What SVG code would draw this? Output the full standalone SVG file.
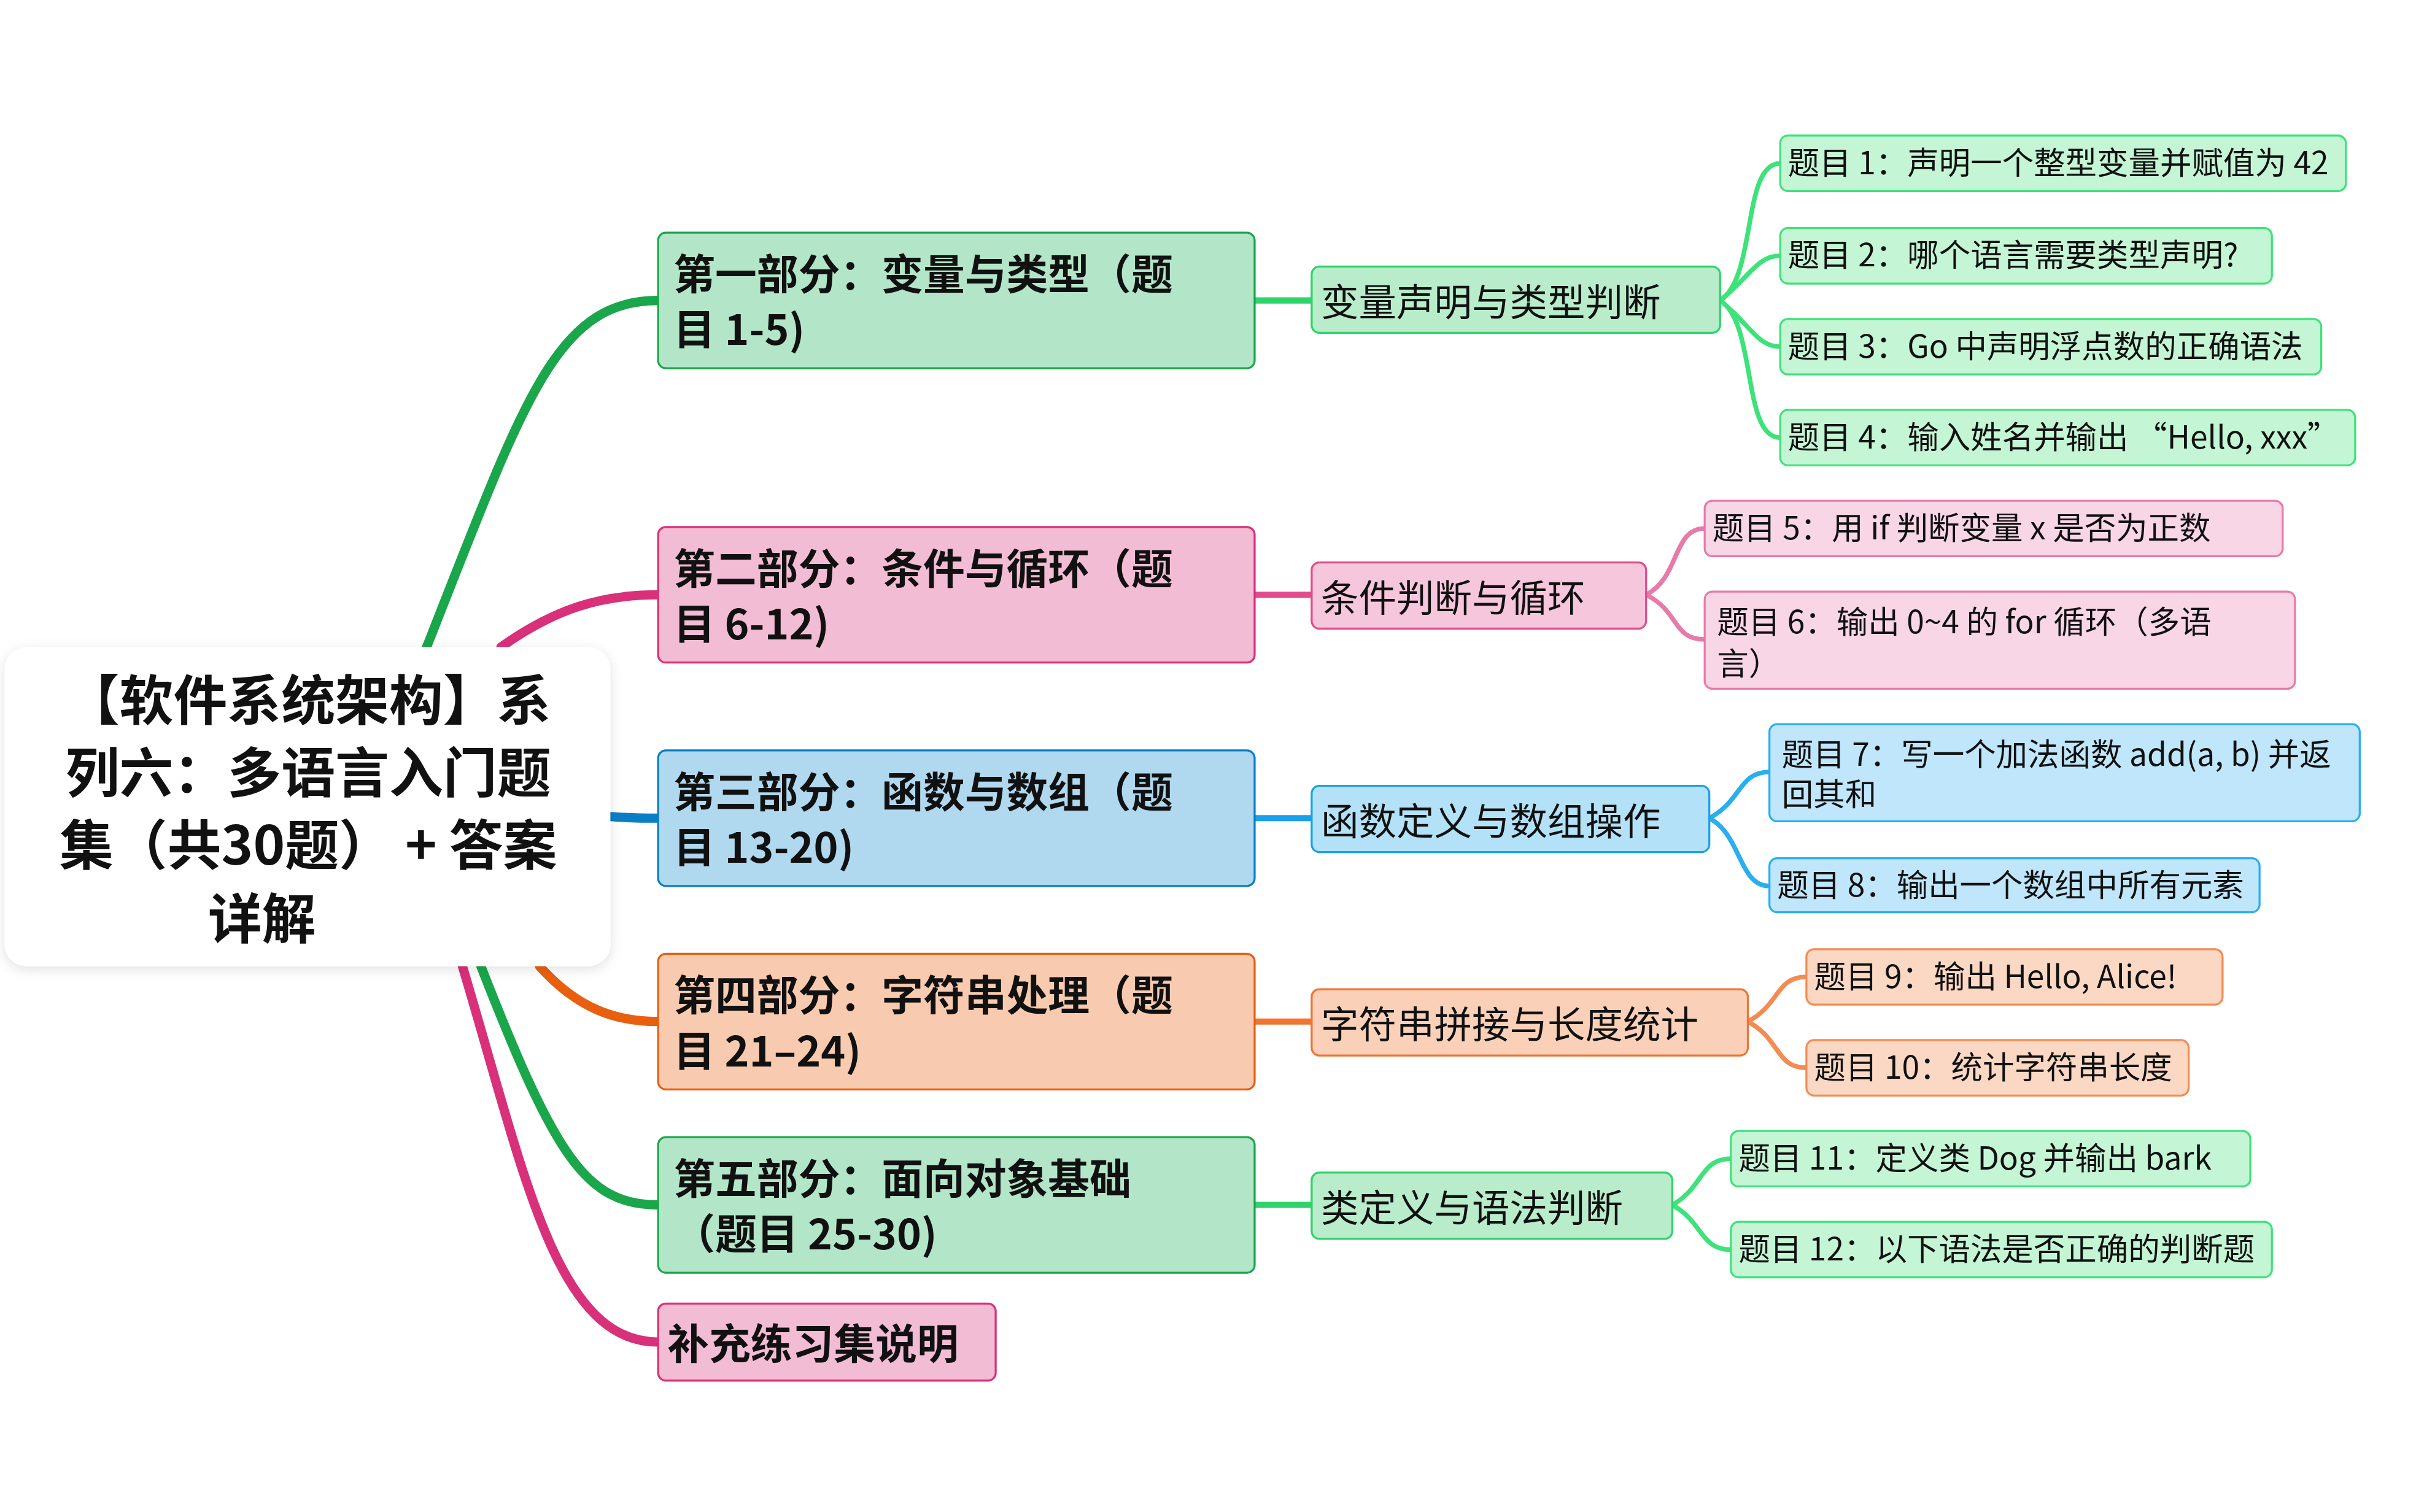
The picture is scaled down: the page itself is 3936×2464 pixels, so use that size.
<svg xmlns="http://www.w3.org/2000/svg" width="3936" height="2464" viewBox="0 0 3936 2464">
<defs>
<filter id="sh" x="-10%" y="-10%" width="120%" height="130%"><feDropShadow dx="0" dy="2" stdDeviation="4" flood-color="#000" flood-opacity="0.12"/></filter>
<style>
text{font-family:"Noto Sans CJK SC","Noto Sans",sans-serif;fill:#111}
.r{font-size:35px;font-weight:bold;text-anchor:middle}
.l1{font-size:27px;font-weight:bold}
.l2{font-size:24.5px}
.l3{font-size:20.5px}
.c{fill:none;stroke-linecap:round}
.w1{stroke-width:6}.w2{stroke-width:4}.w3{stroke-width:3}
.g1{fill:#b3e5c8;stroke:#1aa64a}.p1{fill:#f3bcd5;stroke:#d9307a}.b1{fill:#b0d8ee;stroke:#0a7ec4}.o1{fill:#f8cbb0;stroke:#e8600f}
.g2{fill:#b8eccb;stroke:#2ed36a}.p2{fill:#f6c6dc;stroke:#e04c8c}.b2{fill:#b3e2f8;stroke:#1aa0ea}.o2{fill:#fad0b8;stroke:#f07434}
.g3{fill:#c4f5d5;stroke:#3ee27a}.p3{fill:#f8d6e6;stroke:#e87aaa}.b3{fill:#bfe6fb;stroke:#29aef0}.o3{fill:#fbd8c4;stroke:#f38c53}
rect{stroke-width:1.3}
</style>
</defs>
<rect width="3936" height="2464" fill="#fff"/>
<g transform="scale(2.511)">
<g id="connectors">
<path class="c w1" stroke="#1aa64a" d="M276,422 C340,260 360,195 427,195"/>
<path class="c w1" stroke="#d9307a" d="M325,420 C360,395 390,386 427,386"/>
<path class="c w1" stroke="#0a7ec4" d="M396,530 C410,531 415,531 427,531"/>
<path class="c w1" stroke="#e8600f" d="M350,627 C375,655 400,663 427,663"/>
<path class="c w1" stroke="#1aa64a" d="M312,627 C360,750 380,782 427,782"/>
<path class="c w1" stroke="#d9307a" d="M300,627 C340,760 360,871 427,871"/>
<path class="c w2" stroke="#2ed36a" d="M814,195 H851"/>
<path class="c w2" stroke="#e04c8c" d="M814,386 H851"/>
<path class="c w2" stroke="#1aa0ea" d="M814,531 H851"/>
<path class="c w2" stroke="#f07434" d="M814,663 H851"/>
<path class="c w2" stroke="#2ed36a" d="M814,782 H851"/>
<g class="c w3" stroke="#3ee27a">
<path d="M1116,195 C1140,180 1130,106 1155,106"/>
<path d="M1116,195 C1135,180 1140,166 1155,166"/>
<path d="M1116,195 C1135,210 1140,225 1155,225"/>
<path d="M1116,195 C1140,210 1130,284 1155,284"/>
</g>
<g class="c w3" stroke="#e87aaa">
<path d="M1068,386 C1090,375 1085,343 1106,343"/>
<path d="M1068,386 C1090,397 1085,415 1106,415"/>
</g>
<g class="c w3" stroke="#29aef0">
<path d="M1109,531 C1130,520 1128,501 1148,501"/>
<path d="M1109,531 C1130,542 1128,575 1148,575"/>
</g>
<g class="c w3" stroke="#f38c53">
<path d="M1134,663 C1155,652 1152,634 1172,634"/>
<path d="M1134,663 C1155,674 1152,693 1172,693"/>
</g>
<g class="c w3" stroke="#3ee27a">
<path d="M1085,782 C1105,771 1103,752 1123,752"/>
<path d="M1085,782 C1105,793 1103,811 1123,811"/>
</g>
</g>
<g id="root"><rect x="3" y="420" width="393" height="207" rx="14" fill="#fff" stroke="none" filter="url(#sh)"/>
<text class="r" x="200" y="467">【软件系统架构】系</text><text class="r" x="200" y="514">列六：多语言入门题</text><text class="r" x="200" y="561">集（共30题） + 答案</text><text class="r" x="170" y="609">详解</text></g>
<g id="n1"><rect class="g1" x="427" y="151" width="387" height="88" rx="5"/><text class="l1" x="437" y="188">第一部分：变量与类型（题</text><text class="l1" x="437" y="224">目 1-5)</text></g>
<g id="n2"><rect class="p1" x="427" y="342" width="387" height="88" rx="5"/><text class="l1" x="437" y="379">第二部分：条件与循环（题</text><text class="l1" x="437" y="415">目 6-12)</text></g>
<g id="n3"><rect class="b1" x="427" y="487" width="387" height="88" rx="5"/><text class="l1" x="437" y="524">第三部分：函数与数组（题</text><text class="l1" x="437" y="560">目 13-20)</text></g>
<g id="n4"><rect class="o1" x="427" y="619" width="387" height="88" rx="5"/><text class="l1" x="437" y="656">第四部分：字符串处理（题</text><text class="l1" x="437" y="692">目 21–24)</text></g>
<g id="n5"><rect class="g1" x="427" y="738" width="387" height="88" rx="5"/><text class="l1" x="437" y="775">第五部分：面向对象基础</text><text class="l1" x="437" y="811">（题目 25-30)</text></g>
<g id="n6"><rect class="p1" x="427" y="846" width="219" height="50" rx="5"/><text class="l1" x="433" y="882">补充练习集说明</text></g>
<g id="m1"><rect class="g2" x="851" y="173" width="265" height="43" rx="5"/><text class="l2" x="857" y="205">变量声明与类型判断</text></g>
<g id="m2"><rect class="p2" x="851" y="365" width="217" height="43" rx="5"/><text class="l2" x="857" y="397">条件判断与循环</text></g>
<g id="m3"><rect class="b2" x="851" y="510" width="258" height="43" rx="5"/><text class="l2" x="857" y="542">函数定义与数组操作</text></g>
<g id="m4"><rect class="o2" x="851" y="642" width="283" height="43" rx="5"/><text class="l2" x="857" y="674">字符串拼接与长度统计</text></g>
<g id="m5"><rect class="g2" x="851" y="761" width="234" height="43" rx="5"/><text class="l2" x="857" y="793">类定义与语法判断</text></g>
<g id="q1"><rect class="g3" x="1155" y="88" width="367" height="36" rx="5"/><text class="l3" x="1160" y="113">题目 1：声明一个整型变量并赋值为 42</text></g>
<g id="q2"><rect class="g3" x="1155" y="148" width="319" height="36" rx="5"/><text class="l3" x="1160" y="173">题目 2：哪个语言需要类型声明?</text></g>
<g id="q3"><rect class="g3" x="1155" y="207" width="351" height="36" rx="5"/><text class="l3" x="1160" y="232">题目 3：Go 中声明浮点数的正确语法</text></g>
<g id="q4"><rect class="g3" x="1155" y="266" width="373" height="36" rx="5"/><text class="l3" x="1160" y="291">题目 4：输入姓名并输出 “Hello, xxx”</text></g>
<g id="q5"><rect class="p3" x="1106" y="325" width="375" height="36" rx="5"/><text class="l3" x="1111" y="350">题目 5：用 if 判断变量 x 是否为正数</text></g>
<g id="q6"><rect class="p3" x="1106" y="384" width="383" height="63" rx="5"/><text class="l3" x="1114" y="411">题目 6：输出 0~4 的 for 循环（多语</text><text class="l3" x="1114" y="438">言）</text></g>
<g id="q7"><rect class="b3" x="1148" y="470" width="383" height="63" rx="5"/><text class="l3" x="1156" y="497">题目 7：写一个加法函数 add(a, b) 并返</text><text class="l3" x="1156" y="523">回其和</text></g>
<g id="q8"><rect class="b3" x="1148" y="557" width="318" height="35" rx="5"/><text class="l3" x="1153" y="582">题目 8：输出一个数组中所有元素</text></g>
<g id="q9"><rect class="o3" x="1172" y="616" width="270" height="36" rx="5"/><text class="l3" x="1177" y="641">题目 9：输出 Hello, Alice!</text></g>
<g id="q10"><rect class="o3" x="1172" y="675" width="248" height="36" rx="5"/><text class="l3" x="1177" y="700">题目 10：统计字符串长度</text></g>
<g id="q11"><rect class="g3" x="1123" y="734" width="337" height="36" rx="5"/><text class="l3" x="1128" y="759">题目 11：定义类 Dog 并输出 bark</text></g>
<g id="q12"><rect class="g3" x="1123" y="793" width="351" height="36" rx="5"/><text class="l3" x="1128" y="818">题目 12：以下语法是否正确的判断题</text></g>
</g>
</svg>
